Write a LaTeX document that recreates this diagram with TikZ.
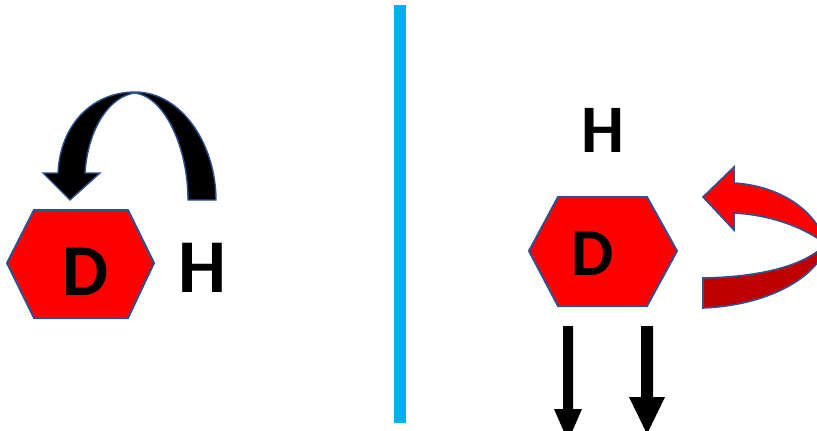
\documentclass[tikz,border=0pt]{standalone}
\usepackage{fontspec}
\newfontfamily\carlitofont{Carlito}
\definecolor{hexblue}{HTML}{2F528F}
\definecolor{linecyan}{HTML}{00B0F0}
\definecolor{darkred}{HTML}{C00000}
\begin{document}
\begin{tikzpicture}[x=1pt,y=-1pt,
  hexa/.style={fill=red,draw=hexblue,line width=2pt,line join=miter},
  letter/.style={inner sep=0pt},
  ribbon/.style={draw=hexblue,line width=1.6pt,line join=miter}]
\useasboundingbox (0,0) rectangle (817,431);
\clip (0,0) rectangle (817,431);
% divider
\fill[linecyan] (394,5) rectangle (406,423);
% left hexagon
\draw[hexa] (7,263) -- (34,210) -- (128,210) -- (154,263) -- (128,318) -- (34,318) -- cycle;
\node[letter,font=\carlitofont\bfseries\fontsize{73}{73}\selectfont] (dl) at (86,271.5) {D};
\node[letter,font=\carlitofont\bfseries\fontsize{76}{76}\selectfont] (hl) at (202,267.5) {H};
% left curved arrow
\draw[fill=black,draw=hexblue,line width=1.4pt,line join=miter]
  (216,200) .. controls (216,145) and (182,92) .. (135,92)
  .. controls (92,92) and (60,125) .. (58,173)
  -- (43,173) -- (70,200) -- (100,173) -- (85,173)
  .. controls (88,128) and (110,96) .. (135,93)
  .. controls (165,97) and (188,148) .. (188,200) -- cycle;
% right hexagon
\draw[hexa] (529,251) -- (558,197) -- (647,197) -- (677,251) -- (647,306) -- (558,306) -- cycle;
\node[letter,font=\carlitofont\bfseries\fontsize{67}{67}\selectfont] (dr) at (592.5,253.5) {D};
\node[letter,font=\carlitofont\bfseries\fontsize{68}{68}\selectfont] (hr) at (602.5,130) {H};
% right ribbon arrow: back band
\draw[ribbon,fill=darkred]
  (703,278) .. controls (760,277) and (805,266) .. (826,244)
  .. controls (822,272) and (775,305) .. (703,308) -- cycle;
% front band with head
\draw[ribbon,fill=red]
  (703,197) -- (734,167) -- (734,183)
  .. controls (780,186) and (816,210) .. (826,244)
  .. controls (805,228) and (772,215) .. (734,213)
  -- (734,230) -- cycle;
% down arrows
\fill[black] (563,326) -- (573,326) -- (573,409) -- (582,409) -- (568,441) -- (554,409) -- (563,409) -- cycle;
\fill[black] (641,326) -- (653,326) -- (653,397) -- (665,397) -- (647,434) -- (629,397) -- (641,397) -- cycle;
\end{tikzpicture}
\end{document}
